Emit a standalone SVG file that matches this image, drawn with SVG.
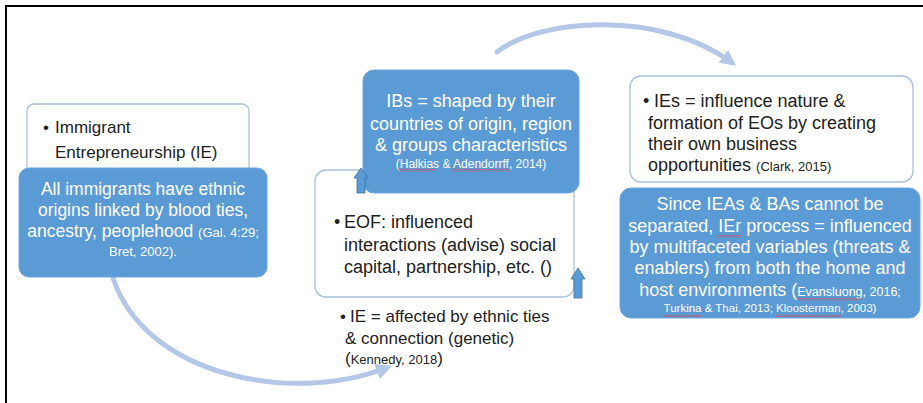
<svg xmlns="http://www.w3.org/2000/svg" width="923" height="403" viewBox="0 0 923 403">
<style>
.wbox{fill:#ffffff;stroke:#a9c0dc;stroke-width:1.3}
.bbox{fill:#5b9bd5;stroke:#6ea6da;stroke-width:1}
.t{font-family:"Liberation Sans",Arial,sans-serif;fill:#222}
.w{font-family:"Liberation Sans",Arial,sans-serif;fill:#ffffff}
.c{text-anchor:middle}
.curve{fill:none;stroke:#b4c7e7;stroke-width:5;stroke-linecap:round}
.blk{fill:#5b9bd5;stroke:#41719c;stroke-width:0.8}
.sq{fill:url(#wavy)}
</style>
<defs>
<marker id="ah" viewBox="0 0 10 10" refX="6" refY="5" markerWidth="3.2" markerHeight="3.2" orient="auto" markerUnits="strokeWidth">
<path d="M0,0 L10,5 L0,10 z" fill="#b4c7e7"/>
</marker>
<pattern id="wavy" width="3" height="3" patternUnits="userSpaceOnUse">
<path d="M0,2.5 L1.5,0.5 L3,2.5" fill="none" stroke="#e04040" stroke-width="0.8"/>
</pattern>
</defs>
<rect x="6" y="6" width="940" height="420" fill="#ffffff" stroke="#000" stroke-width="2"/>

<g id="connectors">
<path class="curve" d="M113,278 C145,375 290,405 386,368" marker-end="url(#ah)"/>
<path class="curve" d="M497,52 C540,18 660,10 731,62" marker-end="url(#ah)"/>
</g>

<g id="node-ie">
<rect class="wbox" x="27" y="104" width="222" height="75" rx="7"/>
<text class="t" x="43" y="133" font-size="17">•</text>
<text class="t" x="55" y="133" font-size="17">Immigrant</text>
<text class="t" x="55" y="158" font-size="17">Entrepreneurship (IE)</text>
</g>
<g id="node-ethnic">
<rect class="bbox" x="19" y="168" width="248" height="109" rx="10"/>
<text class="w c" x="143" y="195" font-size="17.5">All immigrants have ethnic</text>
<text class="w c" x="143" y="216" font-size="17.5">origins linked by blood ties,</text>
<text class="w c" x="143" y="237" font-size="17.5">ancestry, peoplehood <tspan font-size="13">(Gal. 4:29;</tspan></text>
<text class="w c" x="143" y="256" font-size="13">Bret, 2002).</text>
</g>

<g id="node-eof">
<rect class="wbox" x="315" y="170" width="259" height="127" rx="11"/>
<text class="t" x="334" y="228" font-size="18">•</text>
<text class="t" x="344" y="228" font-size="18">EOF: influenced</text>
<text class="t" x="344" y="251" font-size="18">interactions (advise) social</text>
<text class="t" x="344" y="273" font-size="18">capital, partnership, etc. ()</text>
</g>
<g id="node-ibs">
<rect class="bbox" x="363" y="70" width="216" height="123" rx="11"/>
<text class="w c" x="471" y="107" font-size="18">IBs = shaped by their</text>
<text class="w c" x="471" y="130" font-size="18">countries of origin, region</text>
<text class="w c" x="471" y="151" font-size="18">&amp; groups characteristics</text>
<text class="w c" x="471" y="168" font-size="12">(Halkias &amp; Adendorrff, 2014)</text>
<rect class="sq" x="397" y="169" width="39" height="3"/>
<rect class="sq" x="452" y="169" width="57" height="3"/>
</g>
<g id="arrow-up-left">
<path class="blk" d="M357,193 L357,178 L354,178 L361,168 L368,178 L365,178 L365,193 Z"/>
</g>
<g id="arrow-up-right">
<path class="blk" d="M574,298 L574,279 L571,279 L578,268 L585,279 L582,279 L582,298 Z"/>
</g>
<g id="node-ie-affected">
<text class="t" x="340" y="322" font-size="17">•</text>
<text class="t" x="350" y="322" font-size="17">IE = affected by ethnic ties</text>
<text class="t" x="345" y="344" font-size="17">&amp; connection (genetic)</text>
<text class="t" x="345" y="364" font-size="17">(<tspan font-size="13">Kennedy, 2018</tspan>)</text>
</g>

<g id="node-ies">
<rect class="wbox" x="630" y="76" width="283" height="106" rx="11"/>
<text class="t" x="643" y="107" font-size="18">•</text>
<text class="t" x="654" y="107" font-size="18">IEs = influence nature &amp;</text>
<text class="t" x="648" y="129" font-size="18">formation of EOs by creating</text>
<text class="t" x="648" y="150" font-size="18">their own business</text>
<text class="t" x="648" y="171" font-size="18">opportunities <tspan font-size="13">(Clark, 2015)</tspan></text>
</g>
<g id="node-since">
<rect class="bbox" x="620" y="188" width="300" height="130" rx="11"/>
<text class="w c" x="770" y="210" font-size="18">Since IEAs &amp; BAs cannot be</text>
<text class="w c" x="770" y="232" font-size="18">separated, IEr process = influenced</text>
<text class="w c" x="770" y="253" font-size="18">by multifaceted variables (threats &amp;</text>
<text class="w c" x="770" y="274" font-size="18">enablers) from both the home and</text>
<text class="w c" x="770" y="296" font-size="18">host environments (<tspan font-size="12.5">Evansluong, 2016;</tspan></text>
<text class="w c" x="770" y="312" font-size="11.5">Turkina &amp; Thai, 2013; Kloosterman, 2003)</text>
<rect class="sq" x="718" y="235" width="23" height="3"/>
<rect class="sq" x="797" y="298" width="65" height="3"/>
<rect class="sq" x="663" y="314" width="38" height="3"/>
<rect class="sq" x="776" y="314" width="65" height="3"/>
</g>
</svg>
